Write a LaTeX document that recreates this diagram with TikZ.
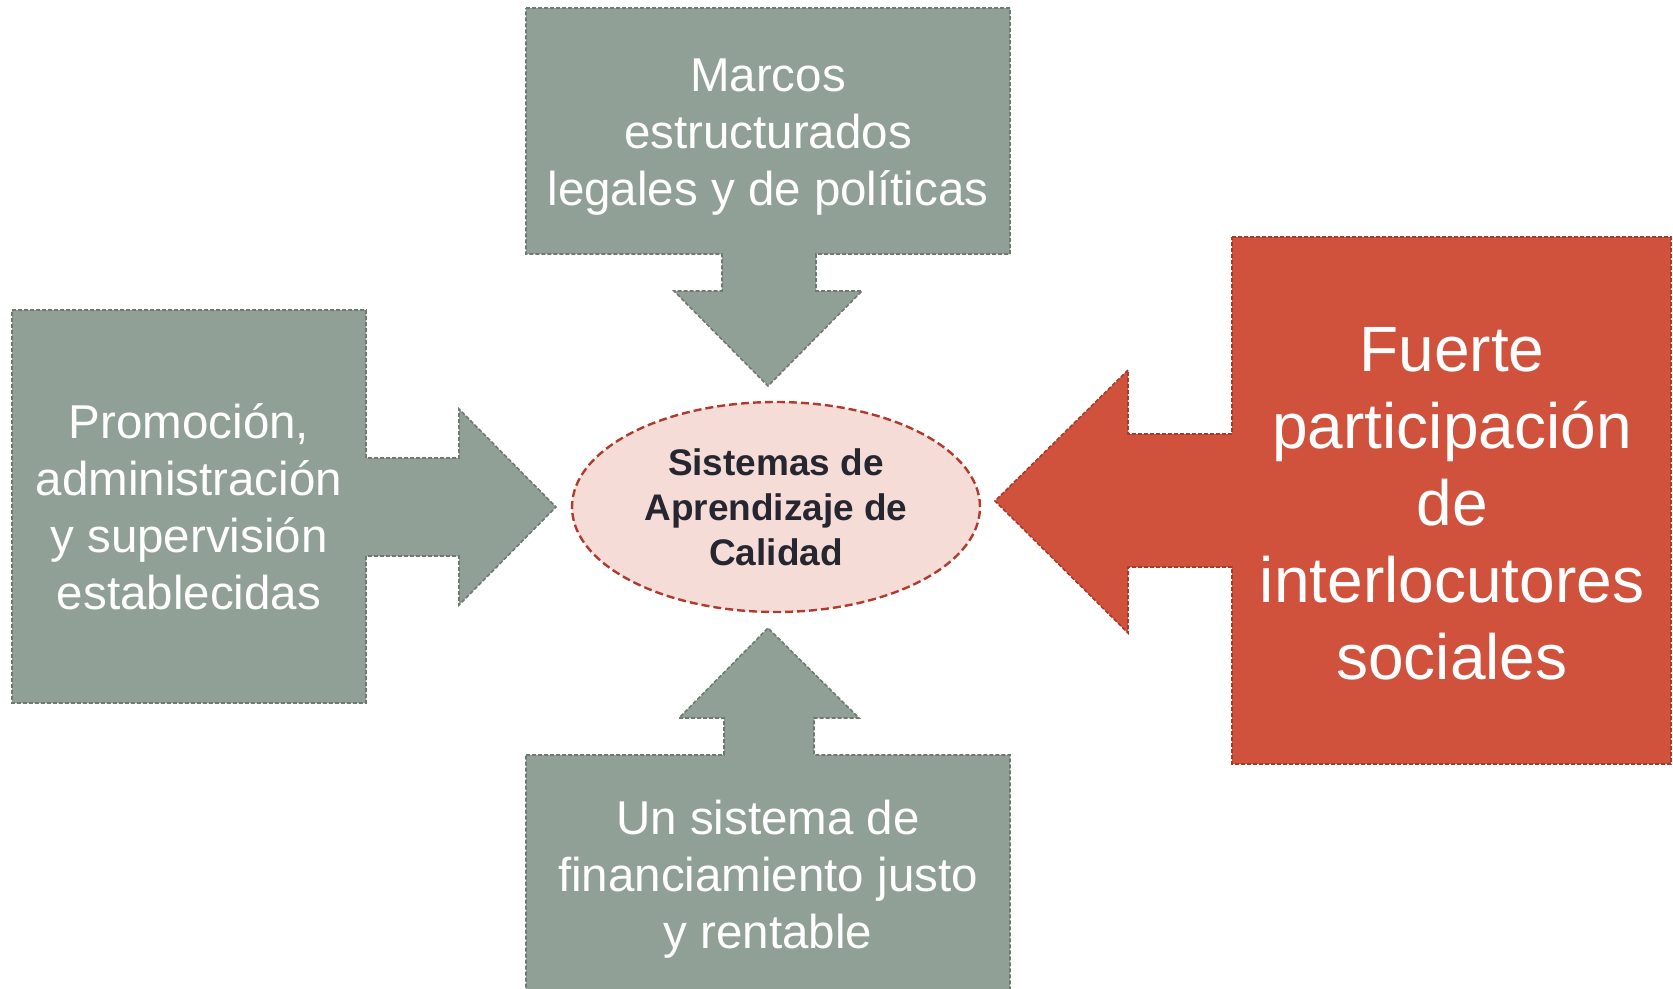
\documentclass[tikz,border=0pt]{standalone}
\usepackage{fontspec}
\setmainfont{Liberation Sans}
\usetikzlibrary{shapes.geometric}
\definecolor{sage}{HTML}{91A096}
\definecolor{sageline}{HTML}{6E7A71}
\definecolor{brick}{HTML}{D0523D}
\definecolor{brickline}{HTML}{A63A2B}
\definecolor{blush}{HTML}{F5DCD7}
\definecolor{blushline}{HTML}{B03B2D}
\definecolor{inkdark}{HTML}{262630}
\begin{document}
\begin{tikzpicture}[x=1pt,y=-1pt,
  callout/.style={line width=1.6pt, dash pattern=on 4pt off 2pt, line join=miter},
  graycall/.style={callout, fill=sage, draw=sageline},
  redcall/.style={callout, fill=brick, draw=brickline},
  labeltext/.style={text=white, align=center, inner sep=0pt, font=\fontsize{47.5}{57}\selectfont},
  bigtext/.style={text=white, align=center, inner sep=0pt, font=\fontsize{64}{77}\selectfont},
  hub/.style={ellipse, fill=blush, draw=blushline, line width=2.4pt, dash pattern=on 8pt off 4pt,
    minimum width=408pt, minimum height=210pt, inner sep=0pt, align=center, text=inkdark,
    font=\bfseries\fontsize{37}{44.8}\selectfont}]
\useasboundingbox (0,0) rectangle (1673,988);
\clip (0,0) rectangle (1673,988);
% top callout
\draw[graycall] (526,8) -- (1010,8) -- (1010,254) -- (816,254) -- (816,291) -- (862,291)
  -- (768,386) -- (674,291) -- (722,291) -- (722,254) -- (526,254) -- cycle;
% left callout
\draw[graycall] (12,310) -- (366,310) -- (366,458) -- (459,458) -- (459,409) -- (556,507)
  -- (459,605) -- (459,556) -- (366,556) -- (366,703) -- (12,703) -- cycle;
% right callout
\draw[redcall] (1232,237) -- (1671,237) -- (1671,764) -- (1232,764) -- (1232,567) -- (1128,567)
  -- (1128,633) -- (995,501) -- (1128,370) -- (1128,434) -- (1232,434) -- cycle;
% bottom callout
\draw[graycall] (526,755) -- (724,755) -- (724,718) -- (679,718) -- (768,628) -- (859,718)
  -- (814,718) -- (814,755) -- (1010,755) -- (1010,1000) -- (526,1000) -- cycle;
% center
\node[hub] (hubnode) at (776,507) {Sistemas de\\Aprendizaje de\\Calidad};
% texts
\node[labeltext] (toptext) at (768,137.5) {Marcos\\estructurados\\legales y de políticas};
\node[labeltext] (lefttext) at (189,506.5) {Promoción,\\administración\\y supervisión\\establecidas};
\node[labeltext] (bottomtext) at (768,879.5) {Un sistema de\\financiamiento justo\\y rentable};
\node[bigtext] (righttext) at (1452,504) {Fuerte\\participación\\de\\interlocutores\\sociales};
\end{tikzpicture}
\end{document}
